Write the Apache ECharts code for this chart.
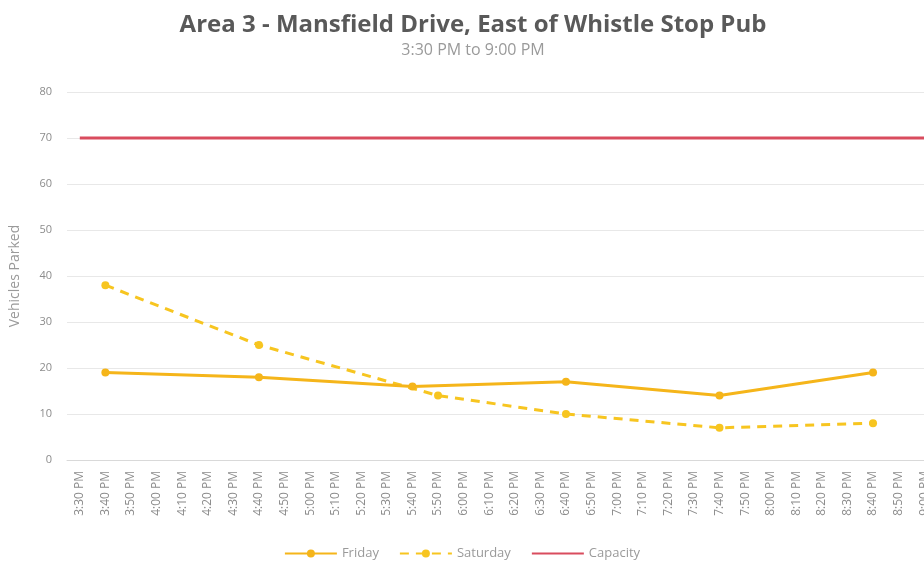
<!DOCTYPE html>
<html>
<head>
<meta charset="utf-8">
<script src="https://cdn.jsdelivr.net/npm/echarts@6/dist/echarts.min.js"></script>
<style>
  html, body { margin: 0; padding: 0; background: #fff; }
  #chart { width: 924px; height: 567px; }
</style>
</head>
<body>
<div id="chart"></div>
<script>
  // 10-minute slots from 3:30 PM to 9:00 PM
  const timeSlots = [
    '3:30 PM', '3:40 PM', '3:50 PM', '4:00 PM', '4:10 PM', '4:20 PM', '4:30 PM',
    '4:40 PM', '4:50 PM', '5:00 PM', '5:10 PM', '5:20 PM', '5:30 PM', '5:40 PM',
    '5:50 PM', '6:00 PM', '6:10 PM', '6:20 PM', '6:30 PM', '6:40 PM', '6:50 PM',
    '7:00 PM', '7:10 PM', '7:20 PM', '7:30 PM', '7:40 PM', '7:50 PM', '8:00 PM',
    '8:10 PM', '8:20 PM', '8:30 PM', '8:40 PM', '8:50 PM', '9:00 PM'
  ];

  // counts only where a survey was taken, the rest are gaps
  const fridayCounts = {
    '3:40 PM': 19, '4:40 PM': 18, '5:40 PM': 16,
    '6:40 PM': 17, '7:40 PM': 14, '8:40 PM': 19
  };
  const saturdayCounts = {
    '3:40 PM': 38, '4:40 PM': 25, '5:50 PM': 14,
    '6:40 PM': 10, '7:40 PM': 7, '8:40 PM': 8
  };
  const capacityValue = 70;

  const yTicks = { min: 0, max: 80, interval: 10 };

  const friday = timeSlots.map(t => (t in fridayCounts ? fridayCounts[t] : null));
  const saturday = timeSlots.map(t => (t in saturdayCounts ? saturdayCounts[t] : null));
  const capacity = timeSlots.map(() => capacityValue);

  const chart = echarts.init(document.getElementById('chart'));
  const option = {
    backgroundColor: '#fff',
    title: {
      text: 'Area 3 - Mansfield Drive, East of Whistle Stop Pub',
      subtext: '3:30 PM to 9:00 PM',
      left: 468,
      textAlign: 'center',
      top: 8,
      itemGap: 5,
      textStyle: {
        fontFamily: 'Open Sans',
        fontSize: 24,
        fontWeight: 'bold',
        color: '#595959'
      },
      subtextStyle: {
        fontFamily: 'Open Sans',
        fontSize: 16,
        color: '#9a9a9a'
      }
    },
    legend: {
      bottom: 2,
      left: 'center',
      itemWidth: 52,
      itemHeight: 10,
      itemGap: 20,
      textStyle: { fontFamily: 'Open Sans', fontSize: 13, color: '#9a9a9a' },
      data: ['Friday', 'Saturday', { name: 'Capacity', itemStyle: { opacity: 0 } }]
    },
    grid: {
      left: 67,
      top: 92,
      width: 870,
      bottom: 107,
      outerBoundsMode: 'none',
      containLabel: false
    },
    xAxis: {
      type: 'category',
      data: timeSlots,
      boundaryGap: true,
      axisLine: { lineStyle: { color: '#d9d9d9' } },
      axisTick: { show: false },
      axisLabel: {
        rotate: 90,
        interval: 0,
        fontFamily: 'Open Sans',
        fontSize: 12,
        color: '#8c8c8c',
        margin: 11
      }
    },
    yAxis: {
      type: 'value',
      min: yTicks.min,
      max: yTicks.max,
      interval: yTicks.interval,
      name: 'Vehicles Parked',
      nameLocation: 'middle',
      nameGap: 45,
      nameTextStyle: { fontFamily: 'Open Sans', fontSize: 14, color: '#9a9a9a' },
      axisLine: { show: false },
      axisTick: { show: false },
      axisLabel: {
        fontFamily: 'Open Sans',
        fontSize: 11,
        color: '#8c8c8c',
        margin: 15
      },
      splitLine: { lineStyle: { color: '#e8e8e8' } }
    },
    series: [
      {
        name: 'Friday',
        type: 'line',
        data: friday,
        connectNulls: true,
        symbol: 'circle',
        symbolSize: 8,
        lineStyle: { width: 3, color: '#F5B51A' },
        itemStyle: { color: '#F5B51A' },
        z: 3
      },
      {
        name: 'Saturday',
        type: 'line',
        data: saturday,
        connectNulls: true,
        symbol: 'circle',
        symbolSize: 8,
        lineStyle: { width: 3, color: '#F7C520', type: [9, 7] },
        itemStyle: { color: '#F7C520' },
        z: 2
      },
      {
        name: 'Capacity',
        type: 'line',
        data: capacity,
        symbol: 'none',
        lineStyle: { width: 3, color: '#D94C5E' },
        itemStyle: { color: '#D94C5E' },
        z: 1
      }
    ]
  };
  chart.setOption(option);
</script>
</body>
</html>
